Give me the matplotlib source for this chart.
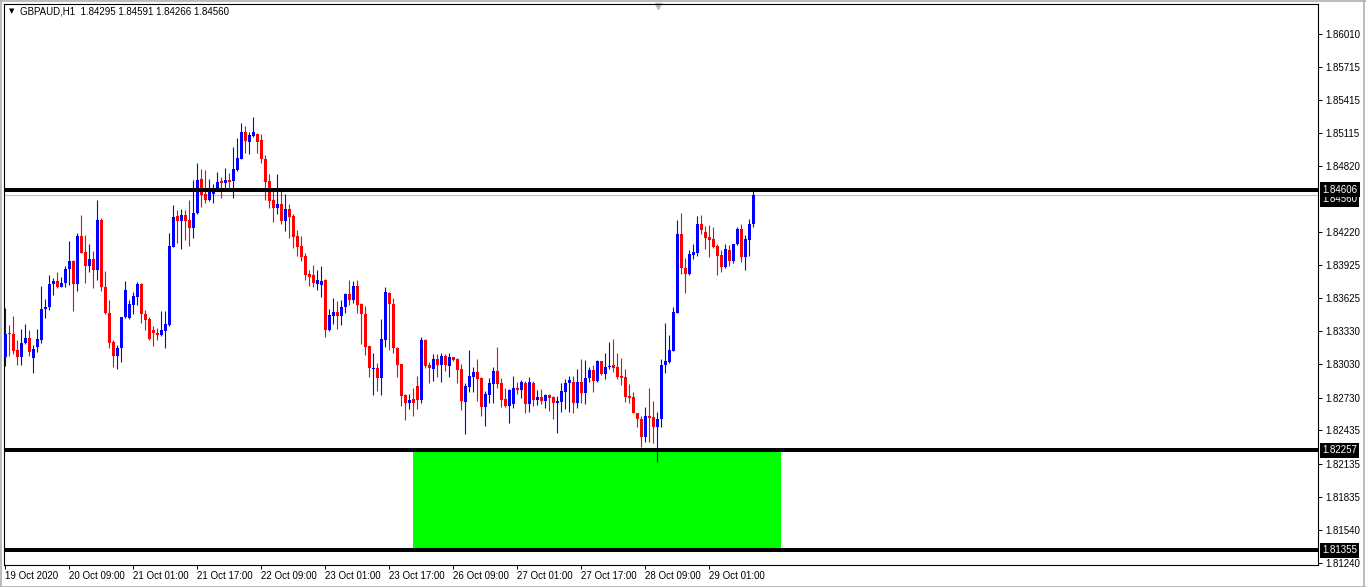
import numpy as np
import matplotlib.pyplot as plt
from matplotlib.patches import Rectangle
import matplotlib.transforms as mtransforms

plt.rcParams['font.family'] = ['Liberation Sans', 'DejaVu Sans']

# GBPAUD H1 candles
opens = [
    1.83095, 1.83314, 1.83305, 1.83161, 1.83095, 1.83221, 1.83266, 1.83086, 1.83185, 1.83251,
    1.83527, 1.83545, 1.83752, 1.83782, 1.83731, 1.83761, 1.83887, 1.83962, 1.83752, 1.84187,
    1.84046, 1.83917, 1.83980, 1.83881, 1.84331, 1.83725, 1.83497, 1.83233, 1.83107, 1.83176,
    1.83461, 1.83446, 1.83566, 1.83641, 1.83755, 1.83485, 1.83437, 1.83341, 1.83317, 1.83296,
    1.83335, 1.83386, 1.84091, 1.84367, 1.84322, 1.84376, 1.84331, 1.84262, 1.84397, 1.84700,
    1.84565, 1.84511, 1.84571, 1.84616, 1.84685, 1.84667, 1.84691, 1.84685, 1.84787, 1.84886,
    1.85123, 1.85036, 1.85093, 1.85111, 1.85051, 1.84886, 1.84682, 1.84511, 1.84442, 1.84481,
    1.84325, 1.84430, 1.84367, 1.84187, 1.84097, 1.84007, 1.83845, 1.83836, 1.83755, 1.83746,
    1.83791, 1.83341, 1.83470, 1.83506, 1.83470, 1.83545, 1.83665, 1.83611, 1.83737, 1.83575,
    1.83485, 1.83197, 1.82990, 1.83002, 1.82912, 1.83251, 1.83677, 1.83575, 1.83182, 1.83035,
    1.82756, 1.82687, 1.82720, 1.82837, 1.82711, 1.83251, 1.83026, 1.82993, 1.83083, 1.83026,
    1.83107, 1.83017, 1.83101, 1.83083, 1.82993, 1.82696, 1.82831, 1.82921, 1.82966, 1.82912,
    1.82651, 1.82756, 1.82855, 1.82972, 1.82867, 1.82719, 1.82659, 1.82674, 1.82815, 1.82800,
    1.82866, 1.82674, 1.82866, 1.82710, 1.82737, 1.82704, 1.82755, 1.82737, 1.82680, 1.82695,
    1.82785, 1.82860, 1.82872, 1.82680, 1.82872, 1.82776, 1.82905, 1.82980, 1.82884, 1.83061,
    1.82944, 1.83004, 1.83025, 1.83004, 1.82926, 1.82914, 1.82746, 1.82737, 1.82596, 1.82539,
    1.82374, 1.82566, 1.82560, 1.82470, 1.82536, 1.83025, 1.83055, 1.83154, 1.83496, 1.84204,
    1.83904, 1.83844, 1.84021, 1.84036, 1.84294, 1.84225, 1.84180, 1.84159, 1.84096, 1.84015,
    1.83910, 1.84066, 1.83961, 1.84114, 1.84249, 1.84000, 1.84150, 1.84295]
highs = [
    1.83542, 1.83386, 1.83467, 1.83251, 1.83350, 1.83392, 1.83341, 1.83206, 1.83350, 1.83737,
    1.83617, 1.83836, 1.83806, 1.83860, 1.83821, 1.83917, 1.84142, 1.83971, 1.84217, 1.84376,
    1.84196, 1.84115, 1.84055, 1.84517, 1.84355, 1.83872, 1.83611, 1.83251, 1.83206, 1.83461,
    1.83782, 1.83611, 1.83686, 1.83776, 1.83767, 1.83521, 1.83461, 1.83377, 1.83356, 1.83512,
    1.83512, 1.84217, 1.84466, 1.84421, 1.84433, 1.84421, 1.84511, 1.84691, 1.84847, 1.84796,
    1.84787, 1.84706, 1.84661, 1.84766, 1.84721, 1.84805, 1.84757, 1.84991, 1.85075, 1.85207,
    1.85177, 1.85126, 1.85261, 1.85117, 1.85105, 1.84916, 1.84745, 1.84601, 1.84745, 1.84625,
    1.84565, 1.84475, 1.84391, 1.84241, 1.84187, 1.84031, 1.83881, 1.83926, 1.83881, 1.83917,
    1.83800, 1.83530, 1.83632, 1.83602, 1.83611, 1.83677, 1.83791, 1.83782, 1.83791, 1.83587,
    1.83557, 1.83197, 1.83137, 1.83041, 1.83440, 1.83731, 1.83686, 1.83632, 1.83191, 1.83035,
    1.82765, 1.82765, 1.82822, 1.82927, 1.83275, 1.83263, 1.83053, 1.83125, 1.83125, 1.83131,
    1.83125, 1.83137, 1.83101, 1.83092, 1.83035, 1.82861, 1.83161, 1.83005, 1.83083, 1.82921,
    1.82792, 1.82912, 1.83005, 1.83191, 1.82912, 1.82815, 1.82806, 1.82926, 1.82875, 1.82890,
    1.82881, 1.82920, 1.82881, 1.82800, 1.82809, 1.82764, 1.82764, 1.82746, 1.82746, 1.82860,
    1.82896, 1.82926, 1.82926, 1.82986, 1.83079, 1.83070, 1.83010, 1.83025, 1.83070, 1.83061,
    1.83136, 1.83229, 1.83259, 1.83136, 1.83085, 1.82989, 1.82854, 1.82782, 1.82596, 1.82566,
    1.82644, 1.82815, 1.82704, 1.82599, 1.83079, 1.83400, 1.83295, 1.83550, 1.84330, 1.84396,
    1.83994, 1.84060, 1.84120, 1.84366, 1.84375, 1.84276, 1.84285, 1.84270, 1.84114, 1.84060,
    1.84114, 1.84105, 1.84120, 1.84270, 1.84294, 1.84195, 1.84339, 1.84591]
lows = [
    1.83017, 1.83107, 1.83128, 1.83026, 1.83026, 1.83215, 1.83107, 1.82951, 1.83146, 1.83227,
    1.83446, 1.83521, 1.83656, 1.83716, 1.83725, 1.83731, 1.83746, 1.83512, 1.83695, 1.84031,
    1.83761, 1.83866, 1.83716, 1.83791, 1.83695, 1.83485, 1.83176, 1.83011, 1.82987, 1.83050,
    1.83446, 1.83437, 1.83485, 1.83566, 1.83407, 1.83341, 1.83251, 1.83200, 1.83251, 1.83287,
    1.83182, 1.83380, 1.84085, 1.84121, 1.84070, 1.84151, 1.84097, 1.84172, 1.84391, 1.84451,
    1.84487, 1.84505, 1.84487, 1.84601, 1.84532, 1.84610, 1.84616, 1.84532, 1.84775, 1.84880,
    1.84937, 1.84931, 1.85081, 1.84937, 1.84847, 1.84511, 1.84445, 1.84316, 1.84391, 1.84295,
    1.84235, 1.84166, 1.84076, 1.84010, 1.83965, 1.83791, 1.83740, 1.83731, 1.83701, 1.83641,
    1.83281, 1.83335, 1.83395, 1.83350, 1.83386, 1.83497, 1.83566, 1.83587, 1.83491, 1.83215,
    1.83116, 1.82921, 1.82756, 1.82792, 1.82756, 1.83191, 1.83161, 1.83131, 1.82921, 1.82660,
    1.82531, 1.82630, 1.82561, 1.82627, 1.82687, 1.83002, 1.82867, 1.82885, 1.82921, 1.82876,
    1.82975, 1.82921, 1.83065, 1.82867, 1.82621, 1.82405, 1.82786, 1.82786, 1.82705, 1.82561,
    1.82471, 1.82687, 1.82687, 1.82822, 1.82651, 1.82650, 1.82506, 1.82635, 1.82764, 1.82725,
    1.82590, 1.82599, 1.82656, 1.82665, 1.82674, 1.82635, 1.82614, 1.82539, 1.82416, 1.82599,
    1.82629, 1.82605, 1.82596, 1.82641, 1.82686, 1.82671, 1.82875, 1.82785, 1.82869, 1.82935,
    1.82899, 1.82989, 1.82965, 1.82896, 1.82845, 1.82695, 1.82680, 1.82590, 1.82464, 1.82290,
    1.82329, 1.82335, 1.82326, 1.82155, 1.82470, 1.82956, 1.83046, 1.83151, 1.83490, 1.83850,
    1.83676, 1.83835, 1.83985, 1.84006, 1.84210, 1.84075, 1.84000, 1.84081, 1.83835, 1.83865,
    1.83904, 1.83916, 1.83949, 1.84105, 1.83955, 1.83880, 1.84006, 1.84266]
closes = [
    1.83305, 1.83302, 1.83155, 1.83095, 1.83221, 1.83266, 1.83146, 1.83167, 1.83257, 1.83527,
    1.83545, 1.83755, 1.83785, 1.83731, 1.83767, 1.83887, 1.83962, 1.83752, 1.84187, 1.84037,
    1.83917, 1.83980, 1.83881, 1.84331, 1.83725, 1.83491, 1.83227, 1.83107, 1.83182, 1.83455,
    1.83701, 1.83575, 1.83647, 1.83755, 1.83482, 1.83431, 1.83257, 1.83311, 1.83296, 1.83341,
    1.83395, 1.84097, 1.84361, 1.84322, 1.84376, 1.84325, 1.84262, 1.84397, 1.84697, 1.84556,
    1.84511, 1.84586, 1.84601, 1.84679, 1.84667, 1.84691, 1.84676, 1.84793, 1.84892, 1.85123,
    1.85042, 1.85102, 1.85123, 1.85036, 1.84880, 1.84676, 1.84505, 1.84442, 1.84481, 1.84325,
    1.84430, 1.84361, 1.84181, 1.84091, 1.84001, 1.83836, 1.83821, 1.83761, 1.83791, 1.83782,
    1.83341, 1.83476, 1.83506, 1.83470, 1.83551, 1.83665, 1.83611, 1.83737, 1.83566, 1.83485,
    1.83191, 1.82996, 1.83002, 1.82912, 1.83260, 1.83686, 1.83572, 1.83176, 1.83026, 1.82750,
    1.82687, 1.82711, 1.82687, 1.82711, 1.83251, 1.83020, 1.82996, 1.83083, 1.83026, 1.83107,
    1.83026, 1.83101, 1.83071, 1.82981, 1.82705, 1.82837, 1.82927, 1.82966, 1.82897, 1.82651,
    1.82765, 1.82867, 1.82972, 1.82855, 1.82711, 1.82656, 1.82800, 1.82815, 1.82800, 1.82869,
    1.82674, 1.82872, 1.82710, 1.82737, 1.82704, 1.82755, 1.82725, 1.82680, 1.82704, 1.82794,
    1.82866, 1.82890, 1.82680, 1.82872, 1.82776, 1.82905, 1.82980, 1.82884, 1.83061, 1.82944,
    1.83004, 1.83016, 1.83001, 1.82920, 1.82911, 1.82740, 1.82731, 1.82590, 1.82536, 1.82380,
    1.82566, 1.82551, 1.82470, 1.82536, 1.83025, 1.83061, 1.83160, 1.83505, 1.84204, 1.83901,
    1.83844, 1.84024, 1.84045, 1.84294, 1.84240, 1.84171, 1.84150, 1.84090, 1.84006, 1.83910,
    1.84069, 1.83961, 1.84114, 1.84249, 1.84000, 1.84159, 1.84294, 1.84560]

# horizontal levels and the demand zone (bar index range)
resistance = 1.84606
support = 1.82257
zone_low = 1.81355
bid = 1.84560
zone_start, zone_end = 102, 194

ytick_vals = [1.86010, 1.85715, 1.85415, 1.85115, 1.84820, 1.84220, 1.83925, 1.83625,
              1.83330, 1.83030, 1.82730, 1.82435, 1.82135, 1.81835, 1.81540, 1.81240]
xtick_pos = [0, 16, 32, 48, 64, 80, 96, 112, 128, 144, 160, 176]
xtick_labels = ['19 Oct 2020', '20 Oct 09:00', '21 Oct 01:00', '21 Oct 17:00', '22 Oct 09:00',
                '23 Oct 01:00', '23 Oct 17:00', '26 Oct 09:00', '27 Oct 01:00', '27 Oct 17:00',
                '28 Oct 09:00', '29 Oct 01:00']

o = np.array(opens); h = np.array(highs); l = np.array(lows); c = np.array(closes)
x = np.arange(len(o))
up = c >= o
cols = np.where(up, '#0000FF', '#FF0000')

fig = plt.figure(figsize=(13.66, 5.87), dpi=100)
ax = fig.add_axes([4 / 1366, 22 / 587, 1314 / 1366, 561 / 587])

# zone
ax.add_patch(Rectangle((zone_start, zone_low), zone_end - zone_start, support - zone_low,
                       facecolor='#00FF00', edgecolor='none', zorder=1))

# candles
ax.vlines(x, l, h, colors=cols, linewidth=0.8, zorder=3)
bottoms = np.minimum(o, c)
heights = np.maximum(np.abs(c - o), 0.00007)
ax.bar(x, heights, bottom=bottoms, width=0.75, color=cols, linewidth=0, zorder=4)

# levels
ax.axhline(bid, color='#C0C0C0', linewidth=0.8, zorder=2)
for lev in [resistance, support, zone_low]:
    ax.axhline(lev, color='black', linewidth=2.9, zorder=5)

ax.set_xlim(-0.25, 328.25)
ax.set_ylim(1.81222, 1.86280)

ax.yaxis.tick_right()
ax.set_yticks(ytick_vals)
ax.set_yticklabels(['%.5f' % v for v in ytick_vals])
ax.tick_params(axis='y', direction='out', length=3, width=0.7, pad=2, labelsize=7)
ax.set_xticks(xtick_pos)
ax.set_xticklabels(xtick_labels)
ax.tick_params(axis='x', direction='out', length=3, width=0.7, pad=1.5, labelsize=7)
for lbl in ax.get_xticklabels():
    lbl.set_ha('left')
for sp in ax.spines.values():
    sp.set_linewidth(0.8)
    sp.set_color('black')

# price boxes on the right axis
trans = mtransforms.blended_transform_factory(ax.transAxes, ax.transData)
ax.text(1.0 + 4 / 1314, bid - 0.0004, '%.5f' % bid, transform=trans, color='white',
        fontsize=7, va='center', ha='left', zorder=6, clip_on=False,
        bbox=dict(boxstyle='square,pad=0.25', fc='black', ec='none'))
for lev in [resistance, support, zone_low]:
    ax.text(1.0 + 4 / 1314, lev, '%.5f' % lev, transform=trans, color='white',
            fontsize=7, va='center', ha='left', zorder=7, clip_on=False,
            bbox=dict(boxstyle='square,pad=0.25', fc='black', ec='none'))

# header
fig.text(9 / 1366, 1 - 11 / 587, '\u25BC', fontsize=5, family='DejaVu Sans', va='center')
fig.text(20 / 1366, 1 - 11 / 587, 'GBPAUD,H1  1.84295 1.84591 1.84266 1.84560',
         fontsize=7, va='center')
ax.plot([0.4977], [0.996], marker='v', color='#B8B8B8', markersize=5,
        transform=ax.transAxes, clip_on=False)

# light window border
for xs, ys in [([0, 1], [0.5 / 587, 0.5 / 587]), ([0, 1], [1 - 0.5 / 587, 1 - 0.5 / 587]),
               ([0.5 / 1366, 0.5 / 1366], [0, 1]), ([1 - 2.5 / 1366, 1 - 2.5 / 1366], [0, 1])]:
    fig.add_artist(plt.Line2D(xs, ys, color='#B0B0B0', linewidth=1.2, transform=fig.transFigure))

fig.savefig('out.png', dpi=100)
